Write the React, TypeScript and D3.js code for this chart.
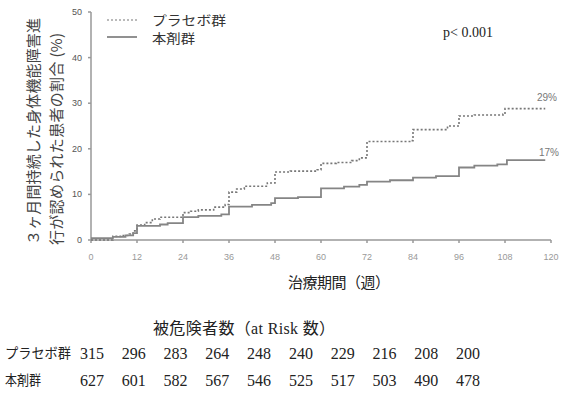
import React from 'react'
import * as d3 from 'd3'

// 累積発生率（%）: 週, 値
const placeboWeeks = [0, 5.7, 8, 10, 11, 12, 14, 16, 18, 24, 26, 28, 32, 35, 36, 38, 40, 46, 48, 52, 59, 60, 64, 68, 70, 72, 83.5, 84, 93, 96, 100, 107.5, 108, 118.5]
const placeboRate = [0, 0.8, 1.0, 1.3, 2.0, 3.3, 3.8, 4.6, 5.0, 6.0, 6.3, 6.6, 7.2, 7.8, 10.5, 11.2, 11.8, 12.5, 14.9, 15.1, 15.4, 16.8, 17.0, 17.4, 18.0, 21.6, 21.8, 24.2, 25.0, 27.2, 27.4, 27.6, 28.8, 28.8]

const activeWeeks = [0, 5.7, 9, 11, 12, 18, 20, 24, 28, 34, 36, 42, 47, 48, 54, 60, 66, 70, 72, 78, 84, 90, 96, 100, 106, 108.5, 118.5]
const activeRate = [0.4, 0.7, 1.0, 1.5, 3.1, 3.4, 3.7, 5.0, 5.3, 5.6, 7.3, 7.7, 8.1, 9.2, 9.4, 11.3, 11.7, 12.1, 12.8, 13.1, 13.7, 14.0, 15.9, 16.3, 16.6, 17.5, 17.5]

const xTicks = [0, 12, 24, 36, 48, 60, 72, 84, 96, 108, 120]
const yTicks = [0, 10, 20, 30, 40, 50]

const groups = ['プラセボ群', '本剤群']
const riskPlacebo = [315, 296, 283, 264, 248, 240, 229, 216, 208, 200]
const riskActive = [627, 601, 582, 567, 546, 525, 517, 503, 490, 478]

const sans = '"Noto Sans CJK JP", "Noto Sans", sans-serif'
const serif = '"Liberation Serif", "Noto Sans CJK JP", serif'

export default function App() {
  const W = 566, H = 394
  const x = d3.scaleLinear().domain([0, 120]).range([91, 551])
  const y = d3.scaleLinear().domain([0, 50]).range([240, 12])

  const line = d3.line<[number, number]>()
    .x(d => x(d[0]))
    .y(d => y(d[1]))
    .curve(d3.curveStepAfter)

  const placebo = placeboWeeks.map((w, i) => [w, placeboRate[i]] as [number, number])
  const active = activeWeeks.map((w, i) => [w, activeRate[i]] as [number, number])

  const colX = d3.scalePoint<number>().domain(d3.range(10)).range([92, 468])

  return (
    <svg width={W} height={H} style={{ position: 'absolute', left: 0, top: 0, background: '#fff' }}>
      {/* y axis label */}
      <g fill="#444" fontFamily={sans} fontSize={15}>
        <text transform="translate(32,245) rotate(-90)" dominantBaseline="central" textLength={227} lengthAdjust="spacing">３ヶ月間持続した身体機能障害進</text>
        <text transform="translate(55,245) rotate(-90)" dominantBaseline="central" textLength={212} lengthAdjust="spacing">行が認められた患者の割合 (%)</text>
      </g>

      {/* axes */}
      <g stroke="#999" strokeWidth={1.5} fill="none">
        <line x1={x(0)} x2={x(0)} y1={y(50)} y2={y(0)} />
        <line x1={x(0)} x2={x(120)} y1={y(0)} y2={y(0)} />
        {yTicks.map(t => <line key={'yt' + t} x1={x(0) - 3} x2={x(0)} y1={y(t)} y2={y(t)} />)}
        {xTicks.map(t => <line key={'xt' + t} x1={x(t)} x2={x(t)} y1={y(0)} y2={y(0) + 3} />)}
      </g>
      <g fontFamily='"Liberation Sans", Arial, sans-serif' fontSize={9}>
        {yTicks.map(t => (
          <text key={'yl' + t} x={82} y={y(t)} textAnchor="end" dominantBaseline="central" fill="#555">{t}</text>
        ))}
        {xTicks.map(t => (
          <text key={'xl' + t} x={x(t)} y={257} textAnchor="middle" dominantBaseline="central" fill="#999">{t}</text>
        ))}
      </g>

      {/* curves */}
      <path d={line(placebo) ?? ''} fill="none" stroke="#777" strokeWidth={1.6} strokeDasharray="2,2" />
      <path d={line(active) ?? ''} fill="none" stroke="#858585" strokeWidth={1.8} />

      <g fontFamily='"Liberation Sans", Arial, sans-serif' fontSize={10} fill="#777">
        <text x={547} y={97} textAnchor="middle" dominantBaseline="central">29%</text>
        <text x={549} y={152} textAnchor="middle" dominantBaseline="central">17%</text>
      </g>

      {/* legend */}
      <line x1={107} x2={137} y1={20} y2={20} stroke="#777" strokeWidth={1.2} strokeDasharray="2,2" />
      <line x1={107} x2={137} y1={37} y2={37} stroke="#858585" strokeWidth={1.8} />
      <g fontFamily={sans} fontSize={13} fill="#333">
        <text x={152} y={19.5} dominantBaseline="central" textLength={74} lengthAdjust="spacingAndGlyphs">{groups[0]}</text>
        <text x={152} y={37.5} dominantBaseline="central" textLength={43} lengthAdjust="spacingAndGlyphs">{groups[1]}</text>
      </g>

      <text x={443} y={32} fontFamily={serif} fontSize={14} fill="#222" dominantBaseline="central">p&lt; 0.001</text>

      {/* x axis title */}
      <text x={288} y={283} dominantBaseline="central" fontFamily={serif} fontSize={15} fill="#222" textLength={102} lengthAdjust="spacing">治療期間（週）</text>

      {/* at risk table */}
      <text x={153} y={328} dominantBaseline="central" fontFamily={serif} fontSize={16} fill="#222" textLength={182} lengthAdjust="spacing">被危険者数（at Risk 数）</text>
      <g fontFamily={serif} fontSize={14} fill="#222">
        <text x={5} y={353} dominantBaseline="central" textLength={66} lengthAdjust="spacingAndGlyphs">{groups[0]}</text>
        <text x={5} y={380} dominantBaseline="central" textLength={36} lengthAdjust="spacingAndGlyphs">{groups[1]}</text>
      </g>
      <g fontFamily={serif} fontSize={16} fill="#222">
        {riskPlacebo.map((v, i) => (
          <text key={'rp' + i} x={colX(i)} y={353} textAnchor="middle" dominantBaseline="central">{v}</text>
        ))}
        {riskActive.map((v, i) => (
          <text key={'ra' + i} x={colX(i)} y={380} textAnchor="middle" dominantBaseline="central">{v}</text>
        ))}
      </g>
    </svg>
  )
}
